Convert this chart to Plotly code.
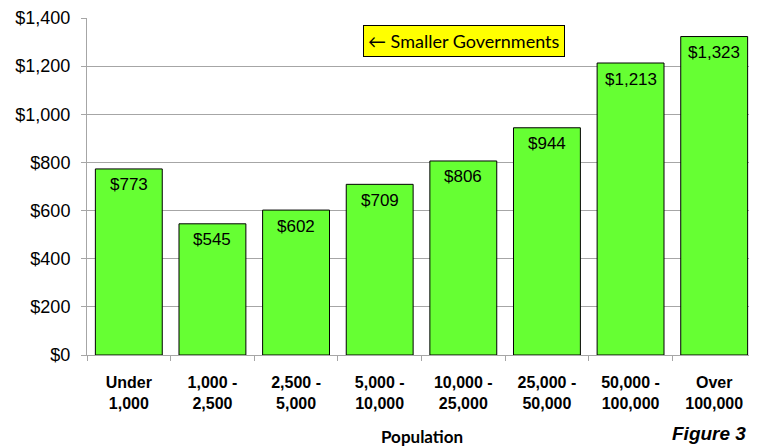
import plotly.graph_objects as go

categorias = ["Under<br>1,000", "1,000 -<br>2,500", "2,500 -<br>5,000", "5,000 -<br>10,000",
              "10,000 -<br>25,000", "25,000 -<br>50,000", "50,000 -<br>100,000", "Over<br>100,000"]
valores = [773, 545, 602, 709, 806, 944, 1213, 1323]
rotulos = ["$773", "$545", "$602", "$709", "$806", "$944", "$1,213", "$1,323"]
y_ticks = [0, 200, 400, 600, 800, 1000, 1200, 1400]
y_labels = ["$0", "$200", "$400", "$600", "$800", "$1,000", "$1,200", "$1,400"]

fig = go.Figure()
fig.add_trace(go.Bar(
    x=categorias,
    y=valores,
    marker=dict(color="#66FF33", line=dict(color="black", width=1)),
    hovertemplate="%{x}<br>%{y:$,.0f}<extra></extra>",
))

# rotulos dentro da barra, um pouco abaixo do topo
for cat, val, rot in zip(categorias, valores, rotulos):
    fig.add_annotation(
        x=cat, y=val, text=rot,
        showarrow=False, yanchor="middle", yshift=-16,
        font=dict(family="Arial", size=17, color="black"),
    )

fig.add_annotation(
    text="← Smaller Governments",
    xref="paper", yref="paper", x=0.564, y=0.932, xanchor="center", yanchor="middle",
    showarrow=False,
    font=dict(family="Lato", size=18, color="black"),
    bgcolor="#FFFF00", bordercolor="black", borderwidth=1, borderpad=4,
)
fig.add_annotation(
    text="<b>Population</b>",
    xref="paper", yref="paper", x=0.5, y=-0.243, yanchor="middle",
    showarrow=False,
    font=dict(family="Lato", size=17, color="black"),
)
fig.add_annotation(
    text="<b><i>Figure 3</i></b>",
    xref="paper", yref="paper", x=0.988, y=-0.27, xanchor="right", yanchor="bottom",
    showarrow=False,
    font=dict(family="Arial", size=19, color="black"),
)

# a pagina tem 8px de margem no body -> figura um pouco menor
fig.update_layout(
    template="plotly_white",
    width=749, height=439,
    margin=dict(l=79, r=1, t=10, b=92, pad=0),
    bargap=0.2,
    showlegend=False,
    plot_bgcolor="white",
    paper_bgcolor="white",
    font=dict(family="Arial", color="black"),
)
fig.update_yaxes(
    range=[0, 1400], tickvals=y_ticks, ticktext=y_labels,
    tickfont=dict(family="Arial", size=18, color="black"),
    showgrid=True, gridcolor="#A6A6A6", gridwidth=1,
    showline=True, linecolor="#A6A6A6", linewidth=1,
    ticks="outside", ticklen=5, tickcolor="#A6A6A6",
    ticklabelstandoff=7,
    zeroline=False, automargin=False,
)
fig.update_xaxes(
    tickfont=dict(family="Arial", size=16, color="black"),
    showline=True, linecolor="#A6A6A6", linewidth=1,
    ticks="outside", ticklen=5, tickcolor="#A6A6A6", tickson="boundaries",
    ticklabelstandoff=13,
    showgrid=False, automargin=False,
    tickprefix="<b>", ticksuffix="</b>",
)

fig.write_html("out.html")
